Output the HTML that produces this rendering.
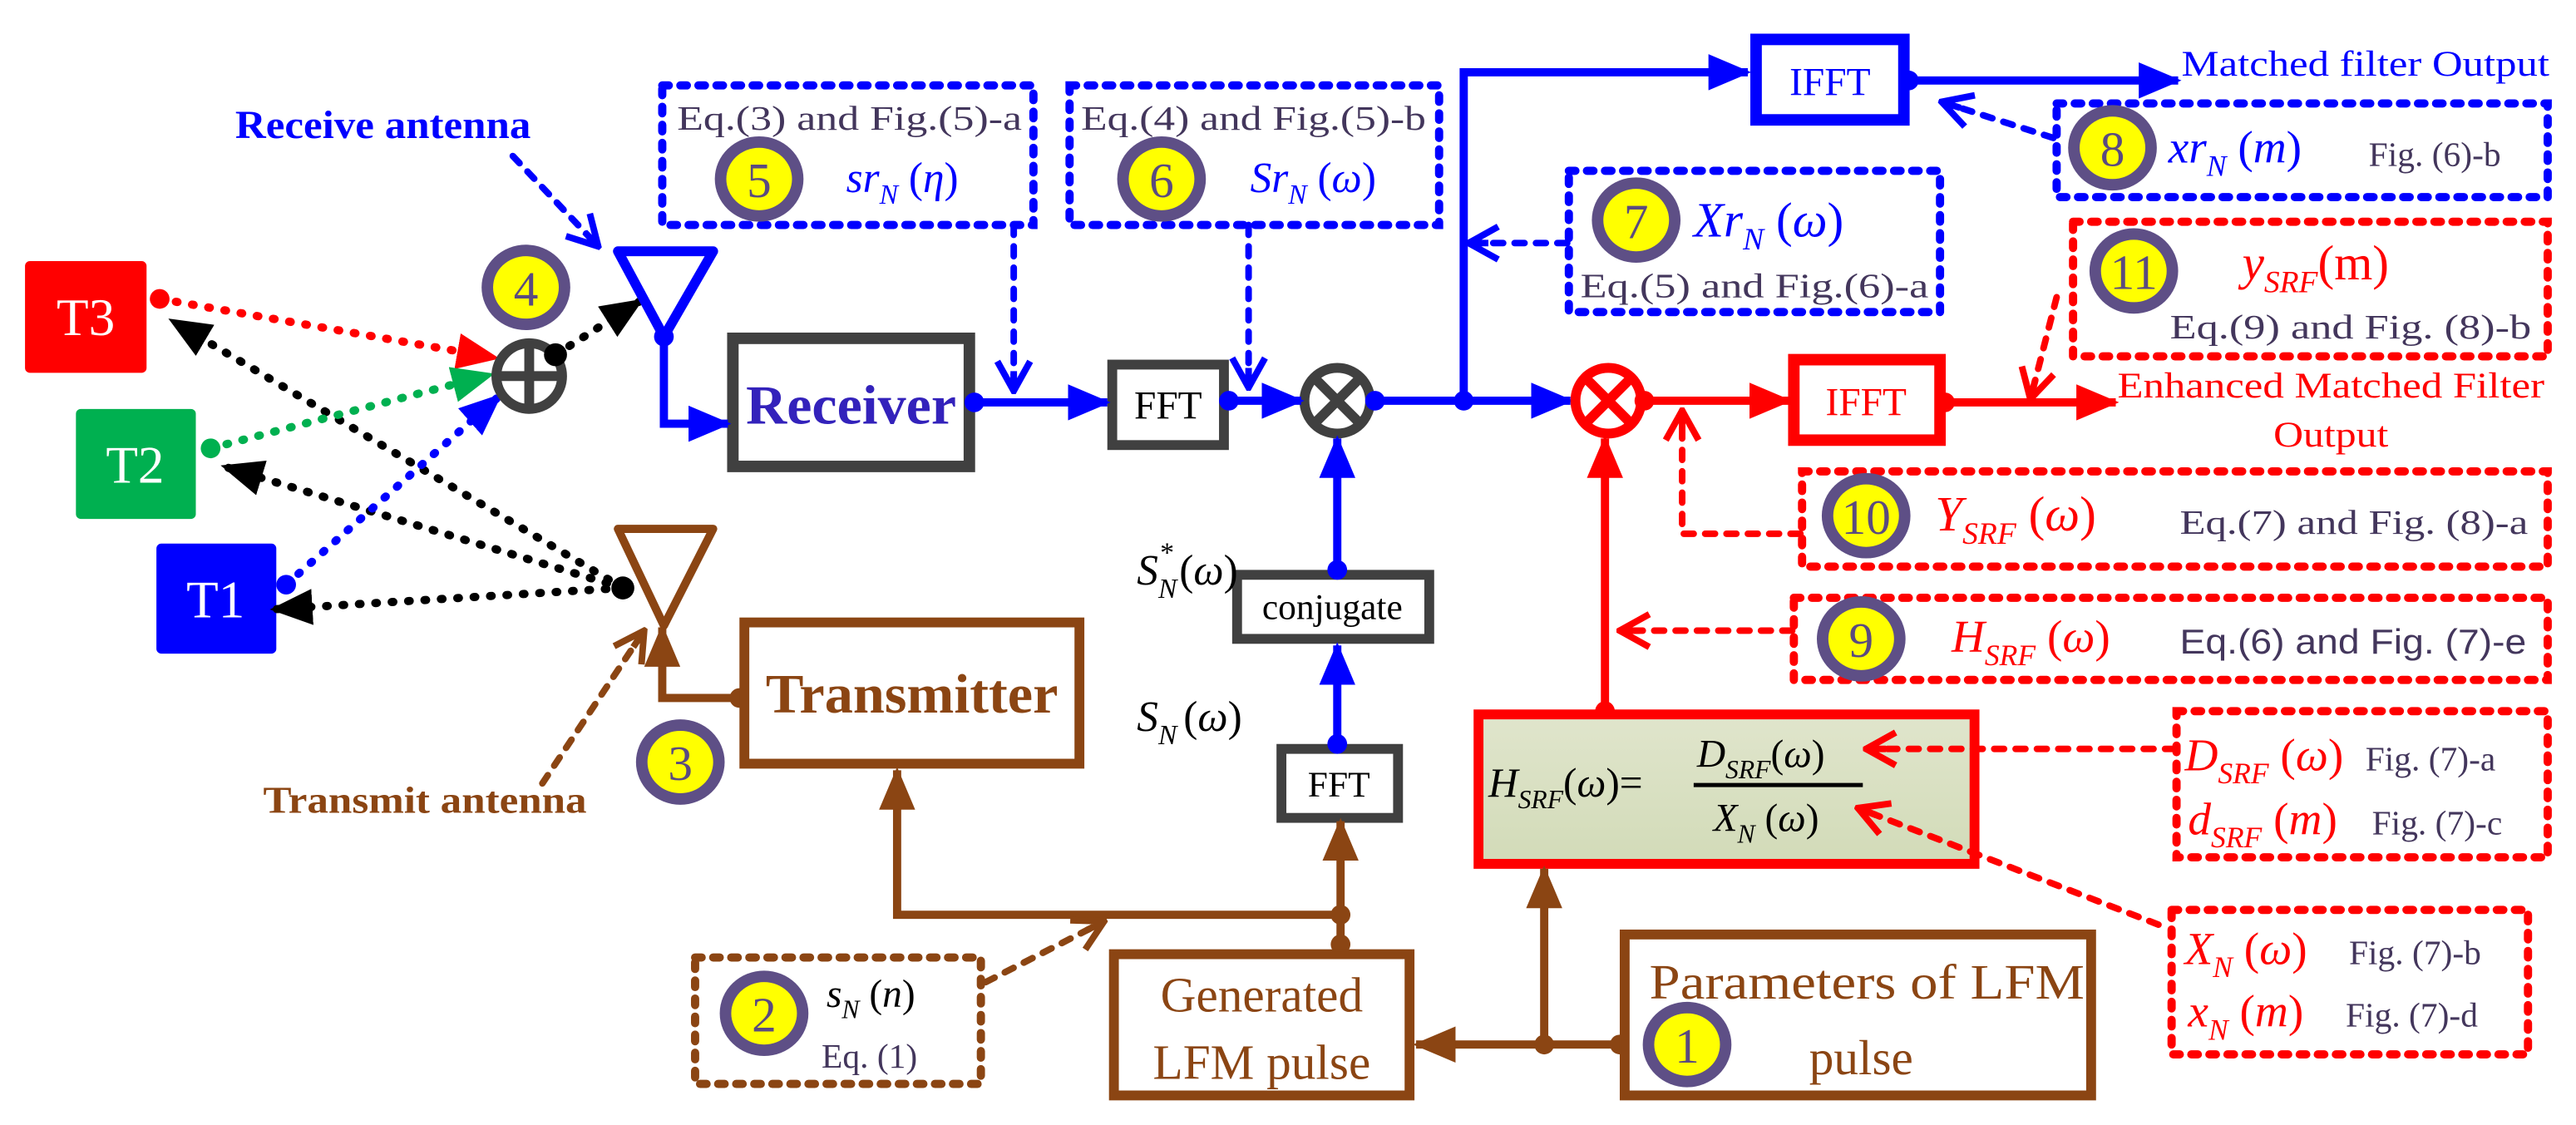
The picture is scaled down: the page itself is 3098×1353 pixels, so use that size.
<!DOCTYPE html>
<html><head><meta charset="utf-8"><style>
html,body{margin:0;padding:0;background:#fff;}
svg{display:block;font-family:"Liberation Serif","Times New Roman","DejaVu Serif",serif;}
svg text{font-family:"Liberation Serif","Times New Roman","DejaVu Serif",serif;}
.eq{fill:#43365c;font-size:21px;}
.bn{font-size:30px;fill:#5a4a80;text-anchor:middle;}
</style></head><body>
<svg width="3098" height="1353" viewBox="0 0 1568 685" xmlns="http://www.w3.org/2000/svg" font-family="Liberation Serif, serif">
<defs>
<marker id="tB" markerUnits="userSpaceOnUse" viewBox="0 0 26 22" refX="24" refY="11" markerWidth="26" markerHeight="22" orient="auto"><path d="M0,0 L26,11 L0,22z" fill="#0000ff"/></marker>
<marker id="tR" markerUnits="userSpaceOnUse" viewBox="0 0 26 22" refX="24" refY="11" markerWidth="26" markerHeight="22" orient="auto"><path d="M0,0 L26,11 L0,22z" fill="#ff0000"/></marker>
<marker id="tN" markerUnits="userSpaceOnUse" viewBox="0 0 26 22" refX="24" refY="11" markerWidth="26" markerHeight="22" orient="auto"><path d="M0,0 L26,11 L0,22z" fill="#8b4513"/></marker>
<marker id="tK" markerUnits="userSpaceOnUse" viewBox="0 0 26 22" refX="24" refY="11" markerWidth="26" markerHeight="22" orient="auto"><path d="M0,0 L26,11 L0,22z" fill="#000"/></marker>
<marker id="tG" markerUnits="userSpaceOnUse" viewBox="0 0 26 22" refX="24" refY="11" markerWidth="26" markerHeight="22" orient="auto"><path d="M0,0 L26,11 L0,22z" fill="#00b050"/></marker>
<marker id="cB" markerUnits="userSpaceOnUse" viewBox="0 0 22 24" refX="20" refY="12" markerWidth="22" markerHeight="24" orient="auto"><path d="M2,2 L20,12 L2,22 M8,12 L20,12" fill="none" stroke="#0000ff" stroke-width="4"/></marker>
<marker id="cR" markerUnits="userSpaceOnUse" viewBox="0 0 22 24" refX="20" refY="12" markerWidth="22" markerHeight="24" orient="auto"><path d="M2,2 L20,12 L2,22 M8,12 L20,12" fill="none" stroke="#ff0000" stroke-width="4"/></marker>
<marker id="cN" markerUnits="userSpaceOnUse" viewBox="0 0 22 24" refX="20" refY="12" markerWidth="22" markerHeight="24" orient="auto"><path d="M2,2 L20,12 L2,22 M8,12 L20,12" fill="none" stroke="#8b4513" stroke-width="4"/></marker>
<linearGradient id="hg" x1="0" y1="0" x2="0" y2="1"><stop offset="0" stop-color="#e0e5cc"/><stop offset="1" stop-color="#d2dbb8"/></linearGradient>
</defs>

<rect x="15" y="159" width="74" height="68" rx="3" fill="#ff0000"/>
<text x="52" y="204" font-size="32" fill="#fff" text-anchor="middle">T3</text>
<rect x="46" y="249" width="73" height="67" rx="3" fill="#00b050"/>
<text x="82" y="294" font-size="32" fill="#fff" text-anchor="middle">T2</text>
<rect x="95" y="331" width="73" height="67" rx="3" fill="#0000ff"/>
<text x="131" y="376" font-size="32" fill="#fff" text-anchor="middle">T1</text>

<g stroke-width="5" stroke-linecap="round" stroke-dasharray="1 9" fill="none">
<line x1="379" y1="358" x2="104" y2="195" stroke="#000" marker-end="url(#tK)"/>
<line x1="379" y1="358" x2="136" y2="284" stroke="#000" marker-end="url(#tK)"/>
<line x1="379" y1="358" x2="166" y2="371" stroke="#000" marker-end="url(#tK)"/>
<line x1="97" y1="182" x2="302" y2="218" stroke="#ff0000" marker-end="url(#tR)"/>
<line x1="128" y1="273" x2="299" y2="228" stroke="#00b050" marker-end="url(#tG)"/>
<line x1="174" y1="356" x2="304" y2="241" stroke="#0000ff" marker-end="url(#tB)"/>
<line x1="338" y1="216" x2="390" y2="183" stroke="#000" marker-end="url(#tK)"/>
</g>
<circle cx="97" cy="182" r="6" fill="#ff0000"/>
<circle cx="128" cy="273" r="6" fill="#00b050"/>
<circle cx="174" cy="356" r="6" fill="#0000ff"/>
<circle cx="379" cy="358" r="7" fill="#000"/>

<circle cx="322" cy="229" r="20" fill="#fff" stroke="#404040" stroke-width="6"/>
<line x1="302" y1="229" x2="342" y2="229" stroke="#404040" stroke-width="6"/>
<line x1="322" y1="209" x2="322" y2="249" stroke="#404040" stroke-width="6"/>
<circle cx="338" cy="216" r="7" fill="#000"/>

<ellipse cx="320" cy="175" rx="27" ry="26" fill="#5e4f86"/><ellipse cx="320" cy="175" rx="20" ry="19" fill="#ffff00"/><text class="bn" x="320" y="186">4</text>
<ellipse cx="414" cy="464" rx="27" ry="26" fill="#5e4f86"/><ellipse cx="414" cy="464" rx="20" ry="19" fill="#ffff00"/><text class="bn" x="414" y="475">3</text>

<polygon points="376,153 434,153 404,205" fill="#fff" stroke="#0000ff" stroke-width="6" stroke-linejoin="round"/>
<circle cx="404" cy="205" r="6" fill="#0000ff"/>
<polygon points="376,322 434,322 404,381" fill="#fff" stroke="#8b4513" stroke-width="5" stroke-linejoin="round"/>

<text x="143" y="84" font-size="24" font-weight="bold" fill="#0000ff" textLength="180" lengthAdjust="spacingAndGlyphs">Receive antenna</text>
<text x="160" y="495" font-size="23" font-weight="bold" fill="#8b4513" textLength="197" lengthAdjust="spacingAndGlyphs">Transmit antenna</text>

<rect x="446" y="206" width="144" height="78" fill="#fff" stroke="#404040" stroke-width="7"/>
<text x="518" y="258" font-size="34" font-weight="bold" fill="#3322bb" text-anchor="middle" textLength="128" lengthAdjust="spacingAndGlyphs">Receiver</text>
<rect x="677" y="222" width="68" height="49" fill="#fff" stroke="#404040" stroke-width="6"/>
<text x="711" y="255" font-size="24" fill="#000" text-anchor="middle">FFT</text>
<circle cx="814" cy="244" r="20" fill="#fff" stroke="#404040" stroke-width="6"/>
<line x1="800" y1="230" x2="828" y2="258" stroke="#404040" stroke-width="6"/>
<line x1="828" y1="230" x2="800" y2="258" stroke="#404040" stroke-width="6"/>
<rect x="753" y="350" width="117" height="39" fill="#fff" stroke="#404040" stroke-width="6"/>
<text x="811" y="377" font-size="22" fill="#000" text-anchor="middle">conjugate</text>
<rect x="780" y="456" width="71" height="42" fill="#fff" stroke="#404040" stroke-width="6"/>
<text x="815" y="485" font-size="22" fill="#000" text-anchor="middle">FFT</text>
<text x="692" y="356" font-size="26" font-style="italic" fill="#000">S<tspan font-size="17" dy="8">N</tspan><tspan font-size="17" dx="-11" dy="-22">*</tspan><tspan font-style="normal" dy="14" dx="4">(</tspan>ω<tspan font-style="normal">)</tspan></text>
<text x="692" y="445" font-size="26" font-style="italic" fill="#000">S<tspan font-size="17" dy="8">N</tspan><tspan font-style="normal" dy="-8" dx="4">(</tspan>ω<tspan font-style="normal">)</tspan></text>

<g stroke="#0000ff" stroke-width="5" fill="none">
<polyline points="404,205 404,258 443,258" marker-end="url(#tB)"/>
<line x1="593" y1="245" x2="674" y2="245" marker-end="url(#tB)"/>
<line x1="748" y1="244" x2="792" y2="244" marker-end="url(#tB)"/>
<line x1="836" y1="244" x2="956" y2="244" marker-end="url(#tB)"/>
<polyline points="891,244 891,44 1064,44" marker-end="url(#tB)"/>
<line x1="1162" y1="49" x2="1326" y2="49" marker-end="url(#tB)"/>
<line x1="814" y1="453" x2="814" y2="393" marker-end="url(#tB)"/>
<line x1="814" y1="347" x2="814" y2="267" marker-end="url(#tB)"/>
</g>
<g fill="#0000ff">
<circle cx="593" cy="245" r="6"/><circle cx="748" cy="244" r="6"/><circle cx="837" cy="244" r="6"/><circle cx="891" cy="244" r="6"/><circle cx="1162" cy="49" r="6"/><circle cx="814" cy="453" r="6"/><circle cx="814" cy="347" r="6"/>
</g>

<rect x="1069" y="24" width="90" height="49" fill="#fff" stroke="#0000ff" stroke-width="7"/>
<text x="1114" y="58" font-size="24" fill="#0000ff" text-anchor="middle">IFFT</text>
<text x="1328" y="46" font-size="22" fill="#0000ff" textLength="224" lengthAdjust="spacingAndGlyphs">Matched filter Output</text>

<circle cx="979" cy="244" r="20" fill="#fff" stroke="#ff0000" stroke-width="6"/>
<line x1="965" y1="230" x2="993" y2="258" stroke="#ff0000" stroke-width="6"/>
<line x1="993" y1="230" x2="965" y2="258" stroke="#ff0000" stroke-width="6"/>
<rect x="1092" y="219" width="89" height="49" fill="#fff" stroke="#ff0000" stroke-width="7"/>
<text x="1136" y="253" font-size="24" fill="#ff0000" text-anchor="middle">IFFT</text>
<g stroke="#ff0000" stroke-width="5" fill="none">
<line x1="1001" y1="244" x2="1089" y2="244" marker-end="url(#tR)"/>
<line x1="1184" y1="245" x2="1288" y2="245" marker-end="url(#tR)"/>
<line x1="977" y1="433" x2="977" y2="267" marker-end="url(#tR)"/>
</g>
<g fill="#ff0000"><circle cx="1001" cy="244" r="6"/><circle cx="1184" cy="245" r="6"/><circle cx="977" cy="433" r="6"/></g>
<text x="1289" y="242" font-size="22" fill="#ff0000" textLength="260" lengthAdjust="spacingAndGlyphs">Enhanced Matched Filter</text>
<text x="1384" y="272" font-size="22" fill="#ff0000" textLength="70" lengthAdjust="spacingAndGlyphs">Output</text>

<rect x="900" y="435" width="302" height="91" fill="url(#hg)" stroke="#ff0000" stroke-width="6"/>
<text x="906" y="485" font-size="25" font-style="italic" fill="#000">H<tspan font-size="16" dy="7">SRF</tspan><tspan font-style="normal" dy="-7">(</tspan>ω<tspan font-style="normal">)=</tspan></text>
<line x1="1031" y1="478" x2="1134" y2="478" stroke="#000" stroke-width="2.5"/>
<text x="1033" y="467" font-size="24" font-style="italic" fill="#000">D<tspan font-size="16" dy="7">SRF</tspan><tspan font-style="normal" dy="-7">(</tspan>ω<tspan font-style="normal">)</tspan></text>
<text x="1043" y="506" font-size="24" font-style="italic" fill="#000">X<tspan font-size="16" dy="7">N</tspan><tspan font-style="normal" dy="-7"> (</tspan>ω<tspan font-style="normal">)</tspan></text>

<g stroke="#8b4513" stroke-width="5" fill="none">
<line x1="986" y1="636" x2="862" y2="636" marker-end="url(#tN)"/>
<line x1="940" y1="636" x2="940" y2="529" marker-end="url(#tN)"/>
<line x1="816" y1="578" x2="816" y2="500" marker-end="url(#tN)"/>
<polyline points="816,557 546,557 546,469" marker-end="url(#tN)"/>
<polyline points="450,425 403,425 403,382" marker-end="url(#tN)"/>
</g>
<g fill="#8b4513"><circle cx="986" cy="636" r="6"/><circle cx="940" cy="636" r="6"/><circle cx="816" cy="557" r="6"/><circle cx="816" cy="575" r="6"/><circle cx="450" cy="425" r="6"/></g>

<rect x="453" y="379" width="204" height="86" fill="#fff" stroke="#8b4513" stroke-width="6"/>
<text x="555" y="434" font-size="34" font-weight="bold" fill="#8b4513" text-anchor="middle" textLength="178" lengthAdjust="spacingAndGlyphs">Transmitter</text>
<rect x="678" y="581" width="180" height="86" fill="#fff" stroke="#8b4513" stroke-width="6"/>
<text x="768" y="616" font-size="30" fill="#8b4513" text-anchor="middle">Generated</text>
<text x="768" y="657" font-size="30" fill="#8b4513" text-anchor="middle">LFM pulse</text>
<rect x="989" y="569" width="284" height="98" fill="#fff" stroke="#8b4513" stroke-width="6"/>
<text x="1004" y="608" font-size="30" fill="#8b4513" textLength="265" lengthAdjust="spacingAndGlyphs">Parameters of LFM</text>
<text x="1133" y="654" font-size="30" fill="#8b4513" text-anchor="middle">pulse</text>
<ellipse cx="1027" cy="636" rx="27" ry="26" fill="#5e4f86"/><ellipse cx="1027" cy="636" rx="20" ry="19" fill="#ffff00"/><text class="bn" x="1027" y="647">1</text>

<g fill="none" stroke-width="5" stroke-linecap="round" stroke-dasharray="4 7">
<rect x="403" y="52" width="226" height="85" stroke="#0000ff"/>
<rect x="651" y="52" width="225" height="85" stroke="#0000ff"/>
<rect x="955" y="104" width="226" height="86" stroke="#0000ff"/>
<rect x="1252" y="63" width="299" height="57" stroke="#0000ff"/>
<rect x="1262" y="135" width="289" height="82" stroke="#ff0000"/>
<rect x="1097" y="287" width="454" height="58" stroke="#ff0000"/>
<rect x="1092" y="364" width="459" height="50" stroke="#ff0000"/>
<rect x="1325" y="433" width="226" height="89" stroke="#ff0000"/>
<rect x="1322" y="554" width="217" height="88" stroke="#ff0000"/>
<rect x="423" y="583" width="174" height="77" stroke="#8b4513"/>
</g>

<g fill="none" stroke-width="4" stroke-linecap="round" stroke-dasharray="6 7">
<line x1="312" y1="95" x2="364" y2="150" stroke="#0000ff" marker-end="url(#cB)"/>
<line x1="617" y1="137" x2="617" y2="238" stroke="#0000ff" marker-end="url(#cB)"/>
<line x1="760" y1="137" x2="760" y2="236" stroke="#0000ff" marker-end="url(#cB)"/>
<line x1="954" y1="148" x2="894" y2="148" stroke="#0000ff" marker-end="url(#cB)"/>
<line x1="1250" y1="84" x2="1182" y2="62" stroke="#0000ff" marker-end="url(#cB)"/>
<line x1="1252" y1="181" x2="1236" y2="243" stroke="#ff0000" marker-end="url(#cR)"/>
<polyline points="1096,325 1024,325 1024,250" stroke="#ff0000" marker-end="url(#cR)"/>
<line x1="1091" y1="384" x2="986" y2="384" stroke="#ff0000" marker-end="url(#cR)"/>
<line x1="1324" y1="456" x2="1136" y2="456" stroke="#ff0000" marker-end="url(#cR)"/>
<line x1="1314" y1="563" x2="1131" y2="492" stroke="#ff0000" marker-end="url(#cR)"/>
<line x1="330" y1="477" x2="392" y2="384" stroke="#8b4513" marker-end="url(#cN)"/>
<line x1="600" y1="598" x2="672" y2="561" stroke="#8b4513" marker-end="url(#cN)"/>
</g>

<text class="eq" x="412" y="79" textLength="210" lengthAdjust="spacingAndGlyphs">Eq.(3) and Fig.(5)-a</text>
<ellipse cx="462" cy="109" rx="27" ry="26" fill="#5e4f86"/><ellipse cx="462" cy="109" rx="20" ry="19" fill="#ffff00"/><text class="bn" x="462" y="120">5</text>
<text x="515" y="117" font-size="26" font-style="italic" fill="#0000ff">sr<tspan font-size="17" dy="7">N</tspan><tspan font-style="normal" dy="-7"> (</tspan>η<tspan font-style="normal">)</tspan></text>
<text class="eq" x="658" y="79" textLength="210" lengthAdjust="spacingAndGlyphs">Eq.(4) and Fig.(5)-b</text>
<ellipse cx="707" cy="109" rx="27" ry="26" fill="#5e4f86"/><ellipse cx="707" cy="109" rx="20" ry="19" fill="#ffff00"/><text class="bn" x="707" y="120">6</text>
<text x="761" y="117" font-size="26" font-style="italic" fill="#0000ff">Sr<tspan font-size="17" dy="7">N</tspan><tspan font-style="normal" dy="-7"> (</tspan>ω<tspan font-style="normal">)</tspan></text>
<ellipse cx="996" cy="134" rx="27" ry="26" fill="#5e4f86"/><ellipse cx="996" cy="134" rx="20" ry="19" fill="#ffff00"/><text class="bn" x="996" y="145">7</text>
<text x="1031" y="144" font-size="30" font-style="italic" fill="#0000ff">Xr<tspan font-size="19" dy="8">N</tspan><tspan font-style="normal" dy="-8"> (</tspan>ω<tspan font-style="normal">)</tspan></text>
<text class="eq" x="962" y="181" textLength="212" lengthAdjust="spacingAndGlyphs">Eq.(5) and Fig.(6)-a</text>
<ellipse cx="1286" cy="90" rx="27" ry="26" fill="#5e4f86"/><ellipse cx="1286" cy="90" rx="20" ry="19" fill="#ffff00"/><text class="bn" x="1286" y="101">8</text>
<text x="1320" y="99" font-size="28" font-style="italic" fill="#0000ff">xr<tspan font-size="18" dy="8">N</tspan><tspan font-style="normal" dy="-8"> (</tspan>m<tspan font-style="normal">)</tspan></text>
<text class="eq" x="1442" y="101">Fig. (6)-b</text>
<ellipse cx="1299" cy="165" rx="27" ry="26" fill="#5e4f86"/><ellipse cx="1299" cy="165" rx="20" ry="19" fill="#ffff00"/><text class="bn" x="1299" y="176">11</text>
<text x="1365" y="170" font-size="30" font-style="italic" fill="#ff0000">y<tspan font-size="19" dy="8">SRF</tspan><tspan font-style="normal" dy="-8">(m)</tspan></text>
<text class="eq" x="1321" y="206" textLength="220" lengthAdjust="spacingAndGlyphs">Eq.(9) and Fig. (8)-b</text>
<ellipse cx="1136" cy="314" rx="27" ry="26" fill="#5e4f86"/><ellipse cx="1136" cy="314" rx="20" ry="19" fill="#ffff00"/><text class="bn" x="1136" y="325">10</text>
<text x="1178" y="323" font-size="30" font-style="italic" fill="#ff0000">Y<tspan font-size="19" dy="8">SRF</tspan><tspan font-style="normal" dy="-8"> (</tspan>ω<tspan font-style="normal">)</tspan></text>
<text class="eq" x="1327" y="325" textLength="212" lengthAdjust="spacingAndGlyphs">Eq.(7) and Fig. (8)-a</text>
<ellipse cx="1133" cy="389" rx="27" ry="26" fill="#5e4f86"/><ellipse cx="1133" cy="389" rx="20" ry="19" fill="#ffff00"/><text class="bn" x="1133" y="400">9</text>
<text x="1188" y="397" font-size="28" font-style="italic" fill="#ff0000">H<tspan font-size="18" dy="8">SRF</tspan><tspan font-style="normal" dy="-8"> (</tspan>ω<tspan font-style="normal">)</tspan></text>
<text x="1327" y="398" font-size="21" fill="#43365c" style="font-family:'Liberation Sans',sans-serif" textLength="211" lengthAdjust="spacingAndGlyphs">Eq.(6) and Fig. (7)-e</text>
<text x="1330" y="469" font-size="28" font-style="italic" fill="#ff0000">D<tspan font-size="18" dy="8">SRF</tspan><tspan font-style="normal" dy="-8"> (</tspan>ω<tspan font-style="normal">)</tspan></text>
<text class="eq" x="1440" y="469">Fig. (7)-a</text>
<text x="1332" y="508" font-size="28" font-style="italic" fill="#ff0000">d<tspan font-size="18" dy="8">SRF</tspan><tspan font-style="normal" dy="-8"> (</tspan>m<tspan font-style="normal">)</tspan></text>
<text class="eq" x="1444" y="508">Fig. (7)-c</text>
<text x="1330" y="587" font-size="28" font-style="italic" fill="#ff0000">X<tspan font-size="18" dy="8">N</tspan><tspan font-style="normal" dy="-8"> (</tspan>ω<tspan font-style="normal">)</tspan></text>
<text class="eq" x="1430" y="587">Fig. (7)-b</text>
<text x="1332" y="625" font-size="28" font-style="italic" fill="#ff0000">x<tspan font-size="18" dy="8">N</tspan><tspan font-style="normal" dy="-8"> (</tspan>m<tspan font-style="normal">)</tspan></text>
<text class="eq" x="1428" y="625">Fig. (7)-d</text>
<ellipse cx="465" cy="617" rx="27" ry="26" fill="#5e4f86"/><ellipse cx="465" cy="617" rx="20" ry="19" fill="#ffff00"/><text class="bn" x="465" y="628">2</text>
<text x="503" y="613" font-size="24" font-style="italic" fill="#000">s<tspan font-size="16" dy="7">N</tspan><tspan font-style="normal" dy="-7"> (</tspan>n<tspan font-style="normal">)</tspan></text>
<text class="eq" x="500" y="650">Eq. (1)</text>
</svg>
</body></html>
